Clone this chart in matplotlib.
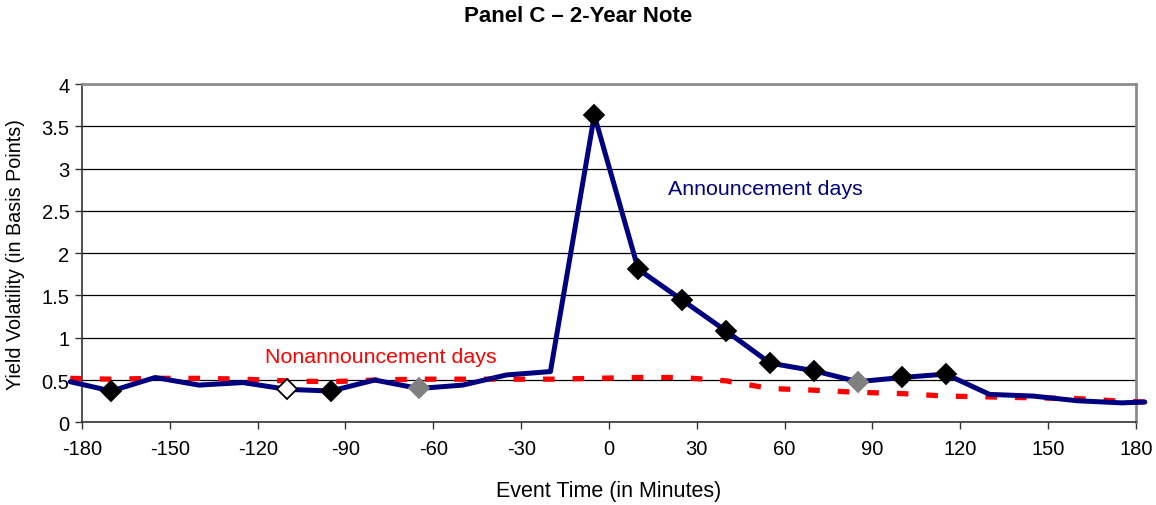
import matplotlib.pyplot as plt
import numpy as np

plt.rcParams['font.family'] = ['Liberation Sans', 'DejaVu Sans']
plt.rcParams['axes.unicode_minus'] = False

# event time (minutes) of each plotted vertex; ends are where the drawn lines stop
minutes = [-184, -170, -155, -140, -125, -110, -95, -80, -65, -50, -35, -20, -5,
           10, 25, 40, 55, 70, 85, 100, 115, 130, 145, 160, 175, 183]
announce = [0.48, 0.37, 0.53, 0.44, 0.47, 0.39, 0.37, 0.50, 0.40, 0.44, 0.56, 0.60, 3.63,
            1.81, 1.445, 1.08, 0.70, 0.61, 0.48, 0.53, 0.57, 0.33, 0.31, 0.255, 0.23, 0.24]
nonannounce = [0.52, 0.51, 0.52, 0.52, 0.51, 0.49, 0.48, 0.50, 0.51, 0.51, 0.51, 0.51, 0.52,
               0.53, 0.53, 0.49, 0.40, 0.38, 0.355, 0.34, 0.31, 0.30, 0.29, 0.28, 0.25, 0.24]

# markers on the announcement line: 'k' filled, 'o' open, 'g' grey
marker_kind = [None, 'k', None, None, None, 'o', 'k', None, 'g', None, None, None, 'k',
               'k', 'k', 'k', 'k', 'k', 'g', 'k', 'k', None, None, None, None, None]

xticks = list(range(-180, 181, 30))
yticks = [0, 0.5, 1, 1.5, 2, 2.5, 3, 3.5, 4]

fig = plt.figure(figsize=(11.56, 5.06), dpi=100)
ax = fig.add_axes([0.0709, 0.1634, 0.9118, 0.6686])

ax.plot(minutes, nonannounce, color='#ff0000', lw=3.8, dashes=(2.2, 3.4),
        clip_on=False, zorder=3)
ax.plot(minutes, announce, color='#000080', lw=3.6, solid_capstyle='round',
        clip_on=False, zorder=4)

face = {'k': 'black', 'o': 'white', 'g': '#808080'}
edge = {'k': 'black', 'o': 'black', 'g': '#808080'}
for x, y, k in zip(minutes, announce, marker_kind):
    if k is None:
        continue
    ax.plot(x, y, marker='D', ms=10.5, mfc=face[k], mec=edge[k], mew=1.3,
            ls='none', zorder=5, clip_on=False)

ax.set_xlim(-180, 180)
ax.set_ylim(0, 4)
ax.set_xticks(xticks)
ax.set_yticks(yticks)
ax.set_yticklabels(['{:g}'.format(v) for v in yticks])
ax.yaxis.grid(True, color='black', lw=0.9)
ax.set_axisbelow(True)

for s in ['top', 'right']:
    ax.spines[s].set_color('#8c8c8c')
    ax.spines[s].set_linewidth(2)
for s in ['left', 'bottom']:
    ax.spines[s].set_color('#333333')
    ax.spines[s].set_linewidth(1.2)

ax.tick_params(axis='both', labelsize=14.5, length=5, width=1, color='#333333',
               direction='out')
ax.tick_params(axis='x', pad=7)
ax.tick_params(axis='y', pad=4)

ax.set_xlabel('Event Time (in Minutes)', fontsize=15.5, labelpad=16)
ax.set_ylabel('Yield Volatility (in Basis Points)', fontsize=14.2, labelpad=12)
fig.text(0.5, 0.968, 'Panel C \u2013 2-Year Note', ha='center', va='center',
         fontsize=16, fontweight='bold')

ax.text(20, 2.76, 'Announcement days', color='#000080', fontsize=15.4,
        ha='left', va='center')
ax.text(-117.5, 0.78, 'Nonannouncement days', color='#ff0000', fontsize=15.4,
        ha='left', va='center')

fig.savefig('out.png', dpi=100)
